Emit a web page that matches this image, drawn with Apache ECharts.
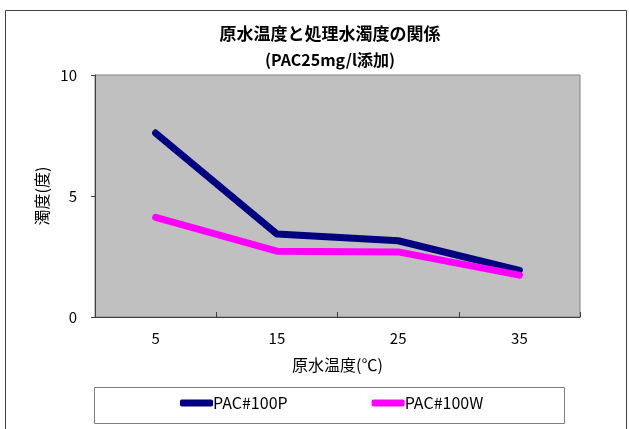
<!DOCTYPE html>
<html>
<head>
<meta charset="utf-8">
<script src="https://cdn.jsdelivr.net/npm/echarts@6/dist/echarts.min.js"></script>
<style>
  html, body { margin: 0; padding: 0; background: #fff; }
  #chart { width: 629px; height: 429px; }
</style>
</head>
<body>
<div id="chart"></div>
<script>
// 原水温度 (℃)
const categories = ['5', '15', '25', '35']
// 処理水濁度 (度)
const pac100P = [7.6, 3.43, 3.15, 1.93]
const pac100W = [4.12, 2.72, 2.69, 1.73]
const yTicks = [0, 5, 10]

const font = '"Noto Sans CJK JP", "Noto Sans", sans-serif'
const chart = echarts.init(document.getElementById('chart'))

const option = {
  animation: false,
  textStyle: { fontFamily: font },
  title: {
    text: '原水温度と処理水濁度の関係',
    subtext: '(PAC25mg/l添加)',
    left: 325,
    textAlign: 'center',
    top: 20,
    itemGap: 10,
    textStyle: { fontSize: 17, fontWeight: 'bold', color: '#000', fontFamily: font },
    subtextStyle: { fontSize: 16, fontWeight: 'bold', color: '#000', fontFamily: font }
  },
  graphic: [
    // 外枠
    { type: 'rect', shape: { x: 5.5, y: 10.5, width: 621, height: 440 }, style: { fill: 'none', stroke: '#404040', lineWidth: 1 }, silent: true, z: -10 },
    // 凡例枠
    { type: 'rect', shape: { x: 94.5, y: 387.5, width: 470, height: 36 }, style: { fill: '#fff', stroke: '#808080', lineWidth: 1 }, silent: true, z: -5 }
  ],
  legend: {
    bottom: 13,
    left: 175,
    itemWidth: 33,
    itemHeight: 7,
    itemGap: 84,
    icon: 'roundRect',
    textStyle: { fontSize: 16, color: '#000', padding: [0, 0, 0, -5], fontFamily: font },
    data: ['PAC#100P', 'PAC#100W']
  },
  grid: {
    left: 95,
    right: 49,
    top: 75,
    bottom: 112,
    show: true,
    backgroundColor: '#C0C0C0',
    borderColor: '#808080',
    borderWidth: 1
  },
  xAxis: {
    type: 'category',
    data: categories,
    boundaryGap: true,
    name: '原水温度(℃)',
    nameLocation: 'middle',
    nameGap: 40,
    nameTextStyle: { fontSize: 16, color: '#000', fontFamily: font },
    axisLine: { lineStyle: { color: '#404040', width: 1 } },
    axisTick: { show: true, inside: true, length: 5, lineStyle: { color: '#404040' } },
    axisLabel: { fontSize: 15, color: '#000', margin: 14, fontFamily: font },
    splitLine: { show: false }
  },
  yAxis: {
    type: 'value',
    min: yTicks[0],
    max: yTicks[yTicks.length - 1],
    interval: 5,
    name: '濁度(度)',
    nameLocation: 'middle',
    nameGap: 42,
    nameRotate: 90,
    nameTextStyle: { fontSize: 16, color: '#000', fontFamily: font },
    axisLine: { show: true, lineStyle: { color: '#404040', width: 1 } },
    axisTick: { show: true, length: 4, lineStyle: { color: '#404040' } },
    axisLabel: { fontSize: 15, color: '#000', margin: 18, fontFamily: font },
    splitLine: { show: false }
  },
  series: [
    {
      name: 'PAC#100P',
      type: 'line',
      data: pac100P,
      symbol: 'none',
      color: '#000080',
      lineStyle: { width: 7, cap: 'round', join: 'round' },
      z: 3
    },
    {
      name: 'PAC#100W',
      type: 'line',
      data: pac100W,
      symbol: 'none',
      color: '#FF00FF',
      lineStyle: { width: 7, cap: 'round', join: 'round' },
      z: 4
    }
  ]
}

chart.setOption(option)
</script>
</body>
</html>
